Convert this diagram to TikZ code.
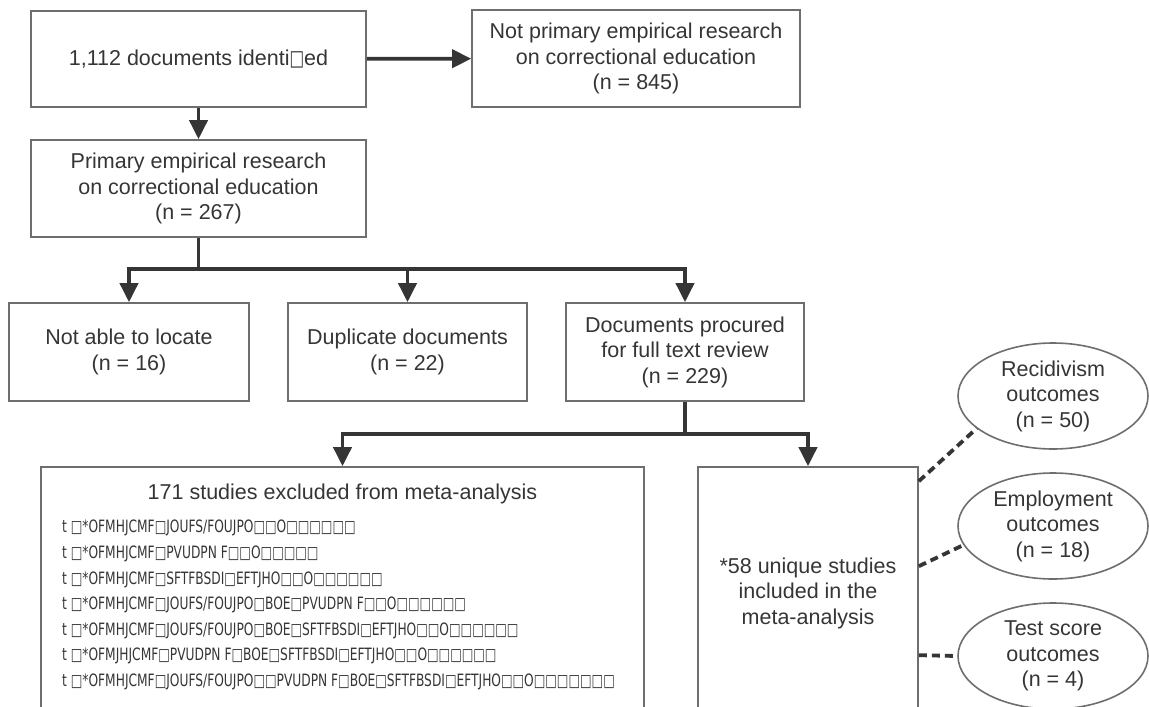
\documentclass[tikz,border=0pt]{standalone}
\usepackage{fontspec}
\setmainfont{Liberation Sans}
\newfontfamily\garbled[FakeStretch=0.72]{DejaVu Sans}
\usetikzlibrary{arrows.meta, positioning, shapes.geometric, calc}

\definecolor{ink}{HTML}{353535}
\definecolor{frame}{HTML}{6E6E6E}

\begin{document}
\begin{tikzpicture}[x=1pt, y=-1pt,
    every node/.style={text=ink, font=\fontsize{21.5}{25.5}\selectfont},
    box/.style={draw=frame, line width=1.6pt, rectangle, inner sep=0pt, align=center},
    oval/.style={draw=frame, line width=1.6pt, ellipse, minimum width=190pt, minimum height=106pt, inner sep=0pt, align=center},
    arr/.style={draw=ink, line width=3.8pt, -{Triangle[width=18pt,length=19pt]}},
    link/.style={draw=ink, line width=3.8pt, dash pattern=on 8pt off 5pt}]
    \useasboundingbox (0,0) rectangle (1149,707);
    \clip (0,0) rectangle (1149,707);

    \node[box, minimum width=335pt, minimum height=96pt] (found) at (198.5,59) {1,112 documents identi{\garbled □}ed};
    \node[box, minimum width=328pt, minimum height=97pt] (notprim) at (636,58.5) {Not primary empirical research\\on correctional education\\(n = 845)};
    \node[box, minimum width=335pt, minimum height=97pt] (prim) at (198.5,188.5) {Primary empirical research\\on correctional education\\(n = 267)};

    \node[box, minimum width=240pt, minimum height=98pt] (locate) at (129,352) {Not able to locate\\(n = 16)};
    \node[box, minimum width=239pt, minimum height=98pt] (dupl) at (407.5,352) {Duplicate documents\\(n = 22)};
    \node[box, minimum width=238pt, minimum height=98pt] (proc) at (685,352) {Documents procured\\for full text review\\(n = 229)};

    \node[box, minimum width=603pt, minimum height=252pt] (excl) at (342.5,593) {};
    \node (excltitle) at (342.5,494) {171 studies excluded from meta-analysis};
    \node[anchor=north west, inner sep=0pt, align=left, font=\garbled\fontsize{17}{25.6}\selectfont] (excllist) at (62,520)
      {t □*OFMHJCMF□JOUFS/FOUJPO□□O□□□□□□\\
       t □*OFMHJCMF□PVUDPN F□□O□□□□□\\
       t □*OFMHJCMF□SFTFBSDI□EFTJHO□□O□□□□□□\\
       t □*OFMHJCMF□JOUFS/FOUJPO□BOE□PVUDPN F□□O□□□□□□\\
       t □*OFMHJCMF□JOUFS/FOUJPO□BOE□SFTFBSDI□EFTJHO□□O□□□□□□\\
       t □*OFMJHJCMF□PVUDPN F□BOE□SFTFBSDI□EFTJHO□□O□□□□□□\\
       t □*OFMHJCMF□JOUFS/FOUJPO□□PVUDPN F□BOE□SFTFBSDI□EFTJHO□□O□□□□□□□};
    \node[box, minimum width=220pt, minimum height=252pt] (incl) at (808,593) {*58 unique studies\\included in the\\meta-analysis};

    \node[oval] (rec) at (1053,396) {Recidivism\\outcomes\\(n = 50)};
    \node[oval] (emp) at (1053,526) {Employment\\outcomes\\(n = 18)};
    \node[oval] (tst) at (1053,656) {Test score\\outcomes\\(n = 4)};

    % flow
    \draw[arr] (found) -- (notprim);
    \draw[arr] (found) -- (prim);
    \draw[draw=ink, line width=3.8pt] (prim.south) -- ++(0,31) coordinate (split1);
    \draw[arr] (split1) -| (locate);
    \draw[arr] (split1) -| (dupl);
    \draw[arr] (split1) -| (proc);
    \draw[draw=ink, line width=3.8pt] (proc.south) -- ++(0,32) coordinate (split2);
    \draw[arr] (split2) -| (excl);
    \draw[arr] (split2) -| (incl);

    % outcomes
    \draw[link] ($(incl.north east)+(0,15)$) -- (rec.203);
    \draw[link] ($(incl.north east)+(0,100)$) -- (emp.192);
    \draw[link] ($(incl.north east)+(0,189)$) -- (tst.west);
\end{tikzpicture}
\end{document}
